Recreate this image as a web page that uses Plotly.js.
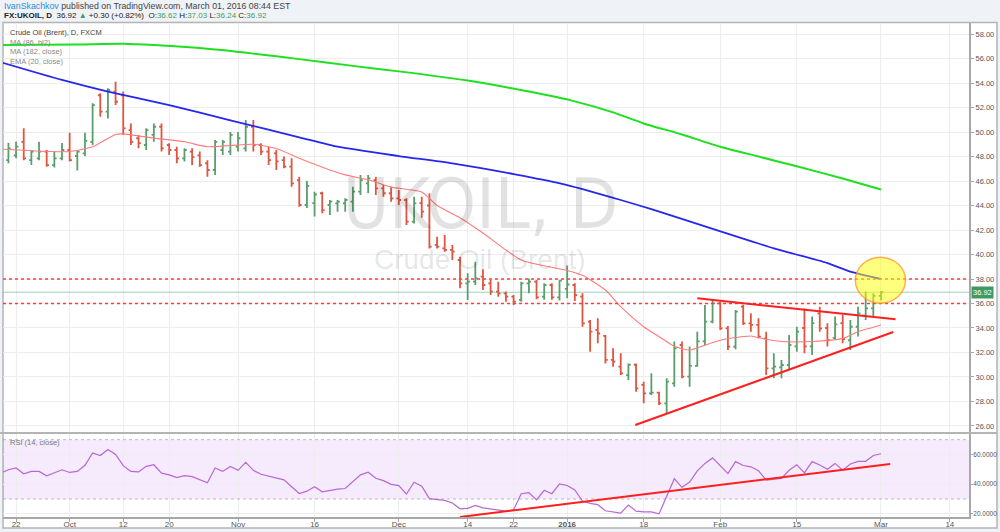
<!DOCTYPE html>
<html><head><meta charset="utf-8">
<script src="https://cdn.plot.ly/plotly-3.0.1.min.js"></script>
<style>html,body{margin:0;padding:0;background:#eff2f6;} #chart{width:1000px;height:532px;}</style>
</head><body><div id="chart"></div>
<script>
const dates = [
'2015-09-18',
'2015-09-21','2015-09-22','2015-09-23','2015-09-24','2015-09-25',
'2015-09-28','2015-09-29','2015-09-30','2015-10-01','2015-10-02',
'2015-10-05','2015-10-06','2015-10-07','2015-10-08','2015-10-09',
'2015-10-12','2015-10-13','2015-10-14','2015-10-15','2015-10-16',
'2015-10-19','2015-10-20','2015-10-21','2015-10-22','2015-10-23',
'2015-10-26','2015-10-27','2015-10-28','2015-10-29','2015-10-30',
'2015-11-02','2015-11-03','2015-11-04','2015-11-05','2015-11-06',
'2015-11-09','2015-11-10','2015-11-11','2015-11-12','2015-11-13',
'2015-11-16','2015-11-17','2015-11-18','2015-11-19','2015-11-20',
'2015-11-23','2015-11-24','2015-11-25','2015-11-26','2015-11-27',
'2015-11-30','2015-12-01','2015-12-02','2015-12-03','2015-12-04',
'2015-12-07','2015-12-08','2015-12-09','2015-12-10','2015-12-11',
'2015-12-14','2015-12-15','2015-12-16','2015-12-17','2015-12-18',
'2015-12-21','2015-12-22','2015-12-23','2015-12-24',
'2015-12-28','2015-12-29','2015-12-30','2015-12-31',
'2016-01-04','2016-01-05','2016-01-06','2016-01-07','2016-01-08',
'2016-01-11','2016-01-12','2016-01-13','2016-01-14','2016-01-15',
'2016-01-18','2016-01-19','2016-01-20','2016-01-21','2016-01-22',
'2016-01-25','2016-01-26','2016-01-27','2016-01-28','2016-01-29',
'2016-02-01','2016-02-02','2016-02-03','2016-02-04','2016-02-05',
'2016-02-08','2016-02-09','2016-02-10','2016-02-11','2016-02-12',
'2016-02-15','2016-02-16','2016-02-17','2016-02-18','2016-02-19',
'2016-02-22','2016-02-23','2016-02-24','2016-02-25','2016-02-26',
'2016-02-29','2016-03-01'];

const openP = [48.3,47.7,48.1,49.2,47.7,47.85,48.4,47.3,47.85,48.53,
48.04,48.26,49.2,53.0,51.66,53.3,53.0,50.16,49.49,48.94,
49.76,50.43,48.94,48.53,47.85,48.4,48.1,47.45,46.9,48.53,
48.4,48.8,48.67,50.43,48.94,48.4,48.26,47.7,47.17,46.08,
44.04,44.2,45.0,44.04,44.18,44.18,44.31,45.13,45.81,46.08,
45.4,45.0,44.59,44.45,42.68,44.2,44.0,40.78,40.5,40.37,
39.55,37.65,37.78,38.19,37.65,36.97,36.83,36.56,36.29,37.65,
37.78,36.56,37.51,36.5,37.2,37.51,36.56,34.52,33.84,33.35,
31.39,30.84,30.16,31.0,29.35,28.67,28.72,27.85,29.48,32.61,
30.03,30.9,32.9,34.52,36.01,33.97,32.48,35.74,34.38,34.25,
33.16,30.71,30.79,30.98,32.5,34.0,32.5,35.2,34.0,33.2,
34.4,33.0,34.1,35.0,35.6,36.62];
const highP = [48.7,49.13,49.2,50.3,48.53,49.2,48.53,48.4,49.1,49.95,
48.53,49.95,52.34,53.16,53.57,54.1,53.3,50.7,49.76,50.3,
50.7,50.7,49.08,48.8,48.67,48.67,48.4,47.7,49.35,49.35,
50.0,50.0,50.98,50.98,49.08,48.8,48.53,48.0,47.85,46.35,
46.0,45.13,45.13,44.45,44.45,44.6,45.54,46.49,46.49,46.35,
45.67,45.54,45.27,44.59,44.72,44.72,45.0,41.45,41.59,40.78,
39.82,38.46,39.41,38.79,37.92,37.78,36.97,36.69,37.78,38.05,
37.92,37.65,37.65,37.9,39.1,37.65,36.83,34.65,34.79,33.43,
32.34,31.93,31.1,31.1,29.62,30.3,28.8,29.89,32.9,32.9,
32.48,33.7,35.88,36.29,36.15,34.16,35.47,35.88,35.2,34.79,
33.7,31.93,31.39,33.43,34.11,35.6,34.93,35.74,34.38,34.93,
35.06,34.65,35.74,36.97,36.83,37.03];
const lowP = [47.4,47.45,47.85,47.7,47.3,47.7,47.17,47.1,47.7,47.6,
46.85,48.04,48.94,51.25,51.1,52.2,49.76,48.94,48.67,48.53,
49.2,48.4,48.12,47.45,47.6,47.3,47.17,46.35,46.5,48.12,
48.12,48.4,48.4,48.4,48.12,47.3,46.9,47.04,45.53,43.9,
43.8,43.1,43.36,43.22,43.5,43.5,43.5,44.86,45.0,44.86,
44.72,44.31,44.04,42.41,42.54,43.0,40.5,40.5,40.23,39.55,
37.24,36.29,37.51,37.1,36.69,36.56,36.15,35.88,36.15,36.83,
36.34,36.3,36.3,36.25,36.42,36.2,34.11,32.07,32.75,31.1,
30.84,30.16,29.76,28.8,27.85,28.53,27.71,27.03,29.21,29.89,
29.21,30.84,32.6,34.38,33.84,32.2,32.26,34.25,33.7,33.16,
30.16,29.9,29.89,30.57,32.07,31.93,31.8,33.7,32.48,33.1,
32.75,32.2,33.3,34.65,34.93,36.24];
const closeP = [47.7,48.67,48.8,47.85,48.4,48.4,47.3,47.85,48.53,47.7,
48.4,49.27,52.2,51.66,53.43,52.47,50.3,49.2,49.1,50.16,
50.43,48.67,48.53,47.85,48.53,47.95,47.3,46.9,49.2,49.2,
49.76,49.49,50.43,48.94,48.4,47.7,47.6,47.17,45.8,44.04,
45.6,44.9,43.63,44.31,44.31,44.45,45.13,46.08,46.22,45.4,
45.0,44.59,44.45,42.68,44.18,43.5,40.64,40.64,40.37,40.23,
37.65,37.78,38.05,37.51,36.97,36.83,36.56,36.15,37.65,37.78,
36.5,37.51,36.5,37.86,37.55,36.69,34.38,33.7,33.55,31.39,
31.25,30.3,31.0,29.07,28.67,28.72,27.85,29.62,32.34,30.03,
30.9,32.9,34.52,36.01,33.97,32.48,35.33,34.38,34.25,33.29,
30.71,30.84,30.98,32.61,33.7,32.5,34.4,33.97,33.0,34.3,
33.1,34.1,35.2,35.6,36.62,36.92];

const rsi14 = [47.4,49.7,50.9,47.0,48.6,48.6,45.6,47.9,49.7,47.9,
48.6,52.7,61.1,59.3,63.4,60.0,52.5,48.6,48.3,52.0,
53.1,47.4,46.3,44.5,45.8,45.1,42.9,41.0,50.9,48.6,
52.0,49.3,54.7,49.3,46.7,45.6,44.5,42.9,38.3,33.7,
35.3,38.3,34.9,36.0,36.7,37.1,41.7,46.3,48.1,44.0,
42.4,39.9,39.0,33.3,41.3,38.7,30.3,29.6,29.1,27.3,
23.4,23.7,25.7,24.1,23.2,22.5,21.8,22.8,33.6,34.3,
29.4,35.9,33.6,40.2,39.1,36.1,28.7,27.1,26.2,22.1,
21.4,20.5,26.0,21.8,21.4,21.4,20.0,32.4,43.7,37.9,
41.4,49.0,54.0,57.7,52.4,47.1,55.2,52.6,51.7,49.0,
42.8,43.2,43.9,49.4,53.1,47.6,55.2,52.9,50.1,54.0,
49.4,53.6,55.4,55.4,59.3,60.5];

const ma86Idx = [0,10,16,20,26,33,39,46,52,61,69,75,80,84,89,94,99,104,110,115];
const ma86 =    [57.1,57.15,57.2,57.1,56.85,56.4,55.95,55.4,54.95,54.2,53.3,52.5,51.6,50.7,49.8,48.8,48.0,47.2,46.2,45.3];
const ma182Idx = [0,8,14,22,30,39,44,52,59,67,70,74,81,85,91,98,101,108,111,115];
const ma182 =    [55.7,54.25,53.3,52.2,50.95,49.57,48.8,48.04,47.44,46.57,46.2,45.67,44.45,43.7,42.5,41.1,40.5,39.3,38.6,38.0];
const ema20Idx = [0,9,12,15,16,20,24,27,30,33,36,39,43,45,48,51,55,57,60,63,68,74,76,79,81,84,86,88,90,92,94,97,98,99,102,106,110,112,115];
const ema20 =    [48.6,48.4,48.8,49.8,49.85,49.5,49.2,48.8,48.9,49.0,48.65,47.85,46.9,46.5,46.1,45.5,45.1,44.0,43.0,41.75,39.55,38.7,38.3,37.1,35.74,34.1,33.3,32.5,32.2,32.6,33.0,33.3,33.35,33.2,32.9,32.9,33.15,33.7,34.25];

const xTickVals = ['2015-09-22','2015-10-01','2015-10-12','2015-10-20','2015-11-02','2015-11-16','2015-12-01','2015-12-14','2015-12-22','2016-01-04','2016-01-18','2016-02-01','2016-02-15','2016-03-01','2016-03-14'];
const xTickText = ['22','Oct','12','20','Nov','16','Dec','14','22','<b>2016</b>','18','Feb','15','Mar','14'];

const lastPrice = 36.92;
const hLevels = [38.0, 36.0];

const FONT = 'Liberation Sans, Arial, sans-serif';
const GRID = '#ededed';
const AXC = '#a8a8a8';
const pick = (idx) => idx.map(i => dates[i]);

const traces = [
  {type:'ohlc', x:dates, open:openP, high:highP, low:lowP, close:closeP,
   xaxis:'x', yaxis:'y', tickwidth:0.3,
   increasing:{line:{color:'#5a9e6e', width:1.8}},
   decreasing:{line:{color:'#df553f', width:1.8}}, hoverinfo:'skip'},
  {type:'scatter', mode:'lines', x:pick(ma86Idx), y:ma86, line:{color:'#1ee01e', width:2, shape:'spline', smoothing:0.6}, xaxis:'x', yaxis:'y', hoverinfo:'skip'},
  {type:'scatter', mode:'lines', x:pick(ma182Idx), y:ma182, line:{color:'#2626f0', width:1.8, shape:'spline', smoothing:0.6}, xaxis:'x', yaxis:'y', hoverinfo:'skip'},
  {type:'scatter', mode:'lines', x:pick(ema20Idx), y:ema20, line:{color:'#ff7b7b', width:1.1, shape:'spline', smoothing:0.6}, xaxis:'x', yaxis:'y', hoverinfo:'skip'},
  {type:'scatter', mode:'lines', x:dates, y:rsi14, line:{color:'#b867d6', width:1.2}, xaxis:'x', yaxis:'y2', hoverinfo:'skip'}
];

const shapes = [
  {type:'rect', xref:'paper', yref:'paper', x0:0, x1:1.0290, y0:-0.0223, y1:1.001, fillcolor:'#ffffff', line:{color:'#b4b4b4', width:1.5}, layer:'below'},
  {type:'rect', xref:'paper', yref:'y2', x0:0, x1:1, y0:30, y1:70, fillcolor:'rgba(160,70,240,0.11)', line:{width:0}, layer:'below'},
  {type:'line', xref:'paper', yref:'y2', x0:0, x1:1, y0:70, y1:70, line:{color:'rgba(130,130,130,0.5)', width:1, dash:'dot'}},
  {type:'line', xref:'paper', yref:'y2', x0:0, x1:1, y0:30, y1:30, line:{color:'rgba(130,130,130,0.5)', width:1, dash:'dot'}},
  {type:'line', xref:'paper', yref:'paper', x0:-0.003, x1:1.029, y0:0.170, y1:0.170, line:{color:'#b4b4b4', width:2}},
  {type:'line', xref:'paper', yref:'y', x0:0, x1:1, y0:lastPrice, y1:lastPrice, line:{color:'rgba(90,170,120,0.55)', width:1}},
  {type:'line', xref:'paper', yref:'y', x0:0, x1:1, y0:hLevels[0], y1:hLevels[0], line:{color:'#ff3b3b', width:1.5, dash:'dot'}},
  {type:'line', xref:'paper', yref:'y', x0:0, x1:1, y0:hLevels[1], y1:hLevels[1], line:{color:'#ff3b3b', width:1.5, dash:'dot'}},
  {type:'line', xref:'x', yref:'y', x0:'2016-01-14 21:36', y0:26.08, x1:'2016-03-02 14:24', y1:33.67, line:{color:'#ff1f1f', width:2}},
  {type:'line', xref:'x', yref:'y', x0:'2016-01-27', y0:36.42, x1:'2016-03-02 21:36', y1:34.71, line:{color:'#ff1f1f', width:2}},
  {type:'line', xref:'x', yref:'y2', x0:'2015-12-11', y0:17.9, x1:'2016-03-02 04:48', y1:53.6, line:{color:'#ff1f1f', width:2}},
  {type:'circle', xref:'x', yref:'y', x0:'2016-02-24 15:36', x1:'2016-03-04 04:48', y0:36.02, y1:39.77, fillcolor:'rgba(255,255,0,0.5)', line:{color:'rgba(255,140,30,0.7)', width:1.5}}
];

const G = '#3f9d5f';
const WM = 'rgba(0,0,0,0.115)';
const annotations = [
  {xref:'paper', yref:'paper', x:-0.0015, y:1.0344, xanchor:'left', yanchor:'middle', showarrow:false,
   text:'<span style="color:#2a8fd8">IvanSkachkov</span> published on TradingView.com, March 01, 2016 08:44 EST',
   font:{family:FONT, size:8.8, color:'#444'}},
  {xref:'paper', yref:'paper', x:-0.001, y:1.0152, xanchor:'left', yanchor:'middle', showarrow:false,
   text:'<b>FX:UKOIL, D</b>  36.92 <span style="color:'+G+'">▲</span> +0.30 (+0.82%)  O:<span style="color:'+G+'">36.62</span> H:<span style="color:'+G+'">37.03</span> L:<span style="color:'+G+'">36.24</span> C:<span style="color:'+G+'">36.92</span>',
   font:{family:FONT, size:8, color:'#222'}},
  {xref:'paper', yref:'paper', x:0.0052, y:0.9798, xanchor:'left', yanchor:'middle', showarrow:false, text:'Crude Oil (Brent), D, FXCM', font:{family:FONT, size:7.5, color:'#444'}},
  {xref:'paper', yref:'paper', x:0.0052, y:0.9601, xanchor:'left', yanchor:'middle', showarrow:false, text:'MA (86, hl2)', font:{family:FONT, size:7.5, color:'#888'}},
  {xref:'paper', yref:'paper', x:0.0052, y:0.9413, xanchor:'left', yanchor:'middle', showarrow:false, text:'MA (182, close)', font:{family:FONT, size:7.5, color:'#888'}},
  {xref:'paper', yref:'paper', x:0.0052, y:0.9226, xanchor:'left', yanchor:'middle', showarrow:false, text:'EMA (20, close)', font:{family:FONT, size:7.5, color:'#888'}},
  {xref:'paper', yref:'paper', x:0.0052, y:0.1498, xanchor:'left', yanchor:'middle', showarrow:false, text:'RSI (14, close)', font:{family:FONT, size:7.5, color:'#777'}},
  {xref:'paper', yref:'paper', x:0.4938, y:0.634, xanchor:'center', yanchor:'middle', showarrow:false, text:'UKOIL, D', font:{family:'Liberation Sans Narrow, DejaVu Sans Condensed, sans-serif', size:70, color:WM}},
  {xref:'paper', yref:'paper', x:0.4938, y:0.521, xanchor:'center', yanchor:'middle', showarrow:false, text:'Crude Oil (Brent)', font:{family:FONT, size:28, color:WM}},
  {xref:'paper', yref:'y', x:1, y:lastPrice, xanchor:'left', yanchor:'middle', xshift:2, showarrow:false, text:'36.92', bgcolor:'#3f9a62', borderpad:1, font:{family:FONT, size:7.5, color:'#ffffff'}}
];

const layout = {
  width:1000, height:532,
  margin:{l:3, r:31, t:23, b:15, pad:0},
  paper_bgcolor:'#eff2f6', plot_bgcolor:'rgba(0,0,0,0)',
  showlegend:false, hovermode:false, dragmode:false,
  font:{family:FONT, size:8, color:'#555'},
  xaxis:{type:'date', anchor:'y2', range:['2015-09-18 07:00','2016-03-16 12:00'],
    rangebreaks:[{bounds:['sat','mon']},{values:['2015-12-25','2016-01-01']}],
    tickmode:'array', tickvals:xTickVals, ticktext:xTickText,
    showgrid:true, gridcolor:GRID, gridwidth:1, ticks:'outside', ticklen:3, tickcolor:AXC,
    ticklabelstandoff:-5,
    showline:true, linecolor:AXC, linewidth:2, zeroline:false,
    rangeslider:{visible:false}, tickfont:{family:FONT, size:8, color:'#555'}, fixedrange:true},
  yaxis:{domain:[0.1721,1], side:'right', anchor:'x', range:[25.51,58.9], dtick:2, tick0:0, tickformat:'.2f',
    showgrid:true, gridcolor:GRID, ticks:'outside', ticklen:3, tickcolor:AXC,
    showline:true, linecolor:AXC, linewidth:2, zeroline:false,
    tickfont:{family:FONT, size:7.5, color:'#555'}, fixedrange:true},
  yaxis2:{domain:[0,0.168], side:'right', anchor:'x', range:[17.9,73.8], tickmode:'array', tickvals:[20,40,60], tickformat:'.4f',
    showgrid:true, gridcolor:GRID, ticks:'outside', ticklen:2, tickcolor:AXC, ticklabelstandoff:-1,
    showline:true, linecolor:AXC, linewidth:2, zeroline:false,
    tickfont:{family:FONT, size:6.5, color:'#555'}, fixedrange:true},
  shapes:shapes, annotations:annotations
};

Plotly.newPlot('chart', traces, layout, {staticPlot:true, displayModeBar:false});
</script>
</body></html>
